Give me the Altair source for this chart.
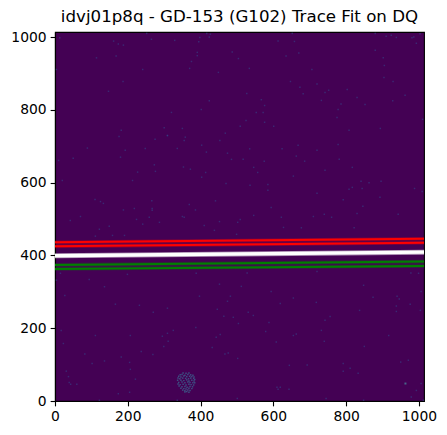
import altair as alt
import pandas as pd

TITLE = "idvj01p8q - GD-153 (G102) Trace Fit on DQ"
TICKS = [0, 200, 400, 600, 800, 1000]
LIMIT = 1014

# hot pixels, region by region
SPECK_X = [13,161,174,188,252,265,329,398,395,417,427,424,487,391,391,504,168,114,375,370,4,241,449,187,147,424,402,320,300,350,182,468,309,176,
 613,652,658,635,670,880,910,924,938,981,986,993,1003,880,902,905,534,706,904,929,647,720,673,803,752,742,682,527,962,830,567,732,928,786,852,576,778,553,572,775,525,576,1010,509,601,894,808,
 309,275,358,355,453,89,193,248,336,403,416,474,50,10,180,485,273,353,372,276,227,414,403,213,20,470,110,125,133,266,441,369,218,267,267,188,386,70,259,350,355,224,42,452,287,502,241,410,149,122,438,158,191,111,499,
 535,624,668,720,778,663,781,517,575,686,546,817,742,557,655,841,863,896,536,585,817,808,844,988,585,1009,720,893,792,846,594,830,943,740,546,622,710,760,509,628,677,822,
 15,388,199,94,4,136,452,27,397,482,474,166,232,446,309,270,464,490,504,387,17,325,309,454,111,207,295,443,311,23,299,432,237,82,269,467,476,182,502,136,205,102,207,31,37,221,39,43,60,174,205,122,336,501,
 528,720,978,999,512,848,594,1006,940,655,946,874,718,619,976,938,837,938,1004,531,545,756,742,588,732,579,663,655,917,608,740,850,971,950,792,644,693,811,792,833,1006,610,619,613,643,993,979,745,848,1012]
SPECK_Y = [998,989,981,978,1010,994,991,999,987,1010,1008,1000,959,958,949,941,948,943,933,914,911,911,903,878,851,825,801,793,751,749,744,736,730,727,
 989,1010,988,948,956,1010,1002,1005,999,998,1000,983,1009,964,943,922,914,911,889,878,878,871,862,856,854,848,844,845,840,834,828,826,825,816,815,812,801,793,793,779,771,766,774,755,755,749,744,
 729,719,725,716,716,695,689,694,694,703,684,681,667,661,670,664,649,643,637,631,629,628,615,606,606,598,554,548,543,550,550,540,529,529,524,525,525,507,505,507,505,499,496,493,491,491,486,482,480,472,469,455,455,453,458,
 693,693,703,689,705,673,664,664,659,659,642,642,634,628,618,604,600,604,593,595,587,582,584,584,579,576,571,560,553,535,532,515,513,513,510,505,507,505,499,477,476,476,
 351,351,348,334,332,314,321,290,288,288,274,266,263,252,255,244,233,230,213,202,194,194,186,183,180,180,178,175,164,158,150,147,136,129,128,129,132,121,117,110,106,103,87,82,67,60,51,46,46,20,24,2,2,7,
 352,356,352,351,315,318,301,301,288,283,280,285,271,268,266,261,249,246,249,244,235,232,222,216,194,191,184,180,180,162,164,150,112,107,103,98,99,90,82,76,48,38,38,32,32,29,11,7,2,2]

# the round patch of flagged pixels near the bottom
BLOB_X = [352,360,368,344,349,357,365,373,379,340,346,354,362,370,376,382,338,343,351,359,367,373,381,384,337,346,354,362,368,376,382,340,349,357,365,371,379,384,338,344,352,360,368,374,381,341,349,357,363,371,378,346,354,360,368,376,351,357,365,371,357,362,368]
BLOB_Y = [77,76,77,72,73,71,73,72,71,68,66,69,67,68,67,66,63,61,63,62,61,63,62,59,57,57,56,58,55,57,55,51,52,50,52,51,50,50,47,45,46,44,46,45,44,41,39,40,38,40,39,35,34,33,35,34,30,28,30,29,25,26,24]
STAR_X = [963]
STAR_Y = [48]

LINE_NAMES = ["r1", "r2", "g1", "g2"]
LINE_COLORS = ["#ff0000", "#ff0000", "#008000", "#008000"]
LINE_START = [436, 425, 374, 363]
LINE_END = [446, 435, 383, 371]
WHITE_START = 399
WHITE_END = 409

def axis():
    return alt.Axis(values=TICKS, title=None, grid=False, format="d", labelFlush=False,
                    labelFont="DejaVu Sans", labelFontSize=13.89, labelColor="#000000",
                    tickColor="#000000", tickSize=4.86, tickWidth=1.11,
                    labelPadding=4, domainColor="#000000", domainWidth=1.11,
                    labelAngle=0)

x_enc = alt.X("x:Q", scale=alt.Scale(domain=[0, LIMIT], nice=False, zero=False), axis=axis())
y_enc = alt.Y("y:Q", scale=alt.Scale(domain=[0, LIMIT], nice=False, zero=False), axis=axis())

specks = alt.Chart(pd.DataFrame({"x": SPECK_X, "y": SPECK_Y})).mark_square(
    size=2.2, color="#35498c", opacity=0.55, clip=True).encode(x=x_enc, y=y_enc)
blob = alt.Chart(pd.DataFrame({"x": BLOB_X, "y": BLOB_Y})).mark_square(
    size=2.2, color="#3a6f96", opacity=0.7, clip=True).encode(x=x_enc, y=y_enc)
star = alt.Chart(pd.DataFrame({"x": STAR_X, "y": STAR_Y})).mark_square(
    size=4, color="#4a8fa0", opacity=0.7, clip=True).encode(x=x_enc, y=y_enc)

rows = []
for name, color, a, b in zip(LINE_NAMES, LINE_COLORS, LINE_START, LINE_END):
    rows.append({"x": 0, "y": a, "name": name, "color": color})
    rows.append({"x": LIMIT, "y": b, "name": name, "color": color})
lines_df = pd.DataFrame(rows)
white_df = pd.DataFrame({"x": [0, LIMIT], "y": [WHITE_START, WHITE_END]})

halo = alt.Chart(lines_df).mark_line(strokeWidth=3.6, opacity=0.3, clip=True).encode(
    x=x_enc, y=y_enc, detail="name:N", color=alt.Color("color:N", scale=None))
core = alt.Chart(lines_df).mark_line(strokeWidth=2, clip=True).encode(
    x=x_enc, y=y_enc, detail="name:N", color=alt.Color("color:N", scale=None))
white_halo = alt.Chart(white_df).mark_line(strokeWidth=5, color="#ffffff", opacity=0.55, clip=True).encode(x=x_enc, y=y_enc)
white_core = alt.Chart(white_df).mark_line(strokeWidth=3.4, color="#ffffff", clip=True).encode(x=x_enc, y=y_enc)

chart = alt.layer(specks, blob, star, white_halo, white_core, halo, core).properties(
    width=369, height=369,
    title=alt.TitleParams(TITLE, font="DejaVu Sans", fontSize=16.67, fontWeight="normal",
                          color="#000000", anchor="middle", offset=4),
    autosize=alt.AutoSizeParams(type="none"),
    padding={"left": 47, "top": 24, "right": 15, "bottom": 26},
).configure_view(fill="#440154", stroke="#000000", strokeWidth=1.11)

chart.save("out.html", embed_options={"renderer": "svg", "actions": False})
